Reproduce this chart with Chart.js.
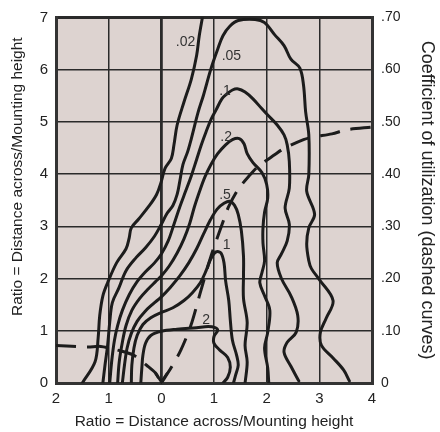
<!DOCTYPE html>
<html>
<head>
<meta charset="utf-8">
<script src="https://cdn.jsdelivr.net/npm/chart.js@4.4.0/dist/chart.umd.min.js"></script>
<style>
  html, body { margin: 0; padding: 0; background: #fff; }
</style>
</head>
<body>
<canvas id="isoChart" width="440" height="432"></canvas>
<script>
// isofootcandle curves: [across, along] in mounting heights
const lvl002 = [[-1.50,0],[-1.26,0.40],[-1.20,0.86],[-1.17,1.29],[-1.11,1.67],[-1.02,1.92],[-0.85,2.30],[-0.67,2.57],[-0.61,2.78],[-0.57,2.97],[-0.43,3.14],[-0.24,3.38],[-0.09,3.61],[0,3.86],[0.07,4.11],[0.19,4.30],[0.24,4.56],[0.30,4.94],[0.43,5.38],[0.57,5.82],[0.67,6.27],[0.72,6.65],[0.78,7.0]];
const lvl005 = [[-1.11,0],[-1.07,0.34],[-1.02,0.72],[-0.98,1.16],[-0.93,1.54],[-0.81,1.81],[-0.67,2.15],[-0.48,2.40],[-0.30,2.59],[-0.13,2.81],[0,3.04],[0.11,3.25],[0.22,3.40],[0.30,3.61],[0.35,3.86],[0.41,4.18],[0.50,4.43],[0.57,4.68],[0.70,5.19],[0.80,5.51],[0.94,6.01],[1.07,6.39],[1.17,6.65],[1.30,6.83],[1.46,6.94],[1.78,6.96],[1.96,6.90],[2.15,6.67],[2.33,6.46],[2.46,6.20],[2.63,6.03],[2.70,5.70],[2.74,5.19],[2.80,4.75],[2.80,3.99],[2.76,3.67],[2.91,3.23],[2.80,2.97],[2.76,2.66],[2.80,2.34],[2.85,2.19],[3.0,1.98],[3.26,1.58],[3.13,1.24],[3.02,0.97],[3.04,0.72],[3.26,0.48],[3.46,0.25],[3.57,0.04]];
const lvl01 = [[-0.98,0],[-0.94,0.44],[-0.89,0.82],[-0.83,1.10],[-0.74,1.39],[-0.61,1.69],[-0.46,1.94],[-0.30,2.13],[-0.13,2.30],[0,2.47],[0.13,2.72],[0.24,3.04],[0.35,3.37],[0.46,3.67],[0.57,3.97],[0.67,4.28],[0.76,4.56],[0.85,4.81],[0.94,5.04],[1.04,5.23],[1.15,5.44],[1.24,5.53],[1.35,5.61],[1.46,5.63],[1.59,5.57],[1.74,5.44],[1.91,5.25],[2.02,5.13],[2.20,4.94],[2.33,4.75],[2.39,4.56],[2.43,4.24],[2.43,3.73],[2.35,3.35],[2.43,3.04],[2.39,2.72],[2.28,2.47],[2.20,2.30],[2.28,2.00],[2.46,1.67],[2.59,1.29],[2.56,0.97],[2.39,0.78],[2.33,0.59],[2.46,0.32],[2.61,0.04]];
const lvl02 = [[-0.83,0],[-0.80,0.40],[-0.74,0.78],[-0.67,1.10],[-0.56,1.39],[-0.41,1.62],[-0.24,1.81],[-0.11,1.94],[0,2.05],[0.15,2.24],[0.30,2.49],[0.43,2.76],[0.54,3.06],[0.63,3.38],[0.74,3.71],[0.83,3.95],[0.94,4.18],[1.07,4.39],[1.22,4.56],[1.35,4.66],[1.48,4.68],[1.57,4.58],[1.63,4.39],[1.74,4.22],[1.91,4.03],[2.0,3.80],[2.02,3.54],[1.96,3.27],[1.93,2.97],[1.93,2.68],[1.96,2.34],[1.91,2.11],[1.87,1.92],[1.96,1.67],[2.06,1.39],[2.02,0.97],[1.96,0.67],[2.02,0.29],[2.04,0]];
const lvl05 = [[-0.74,0],[-0.70,0.34],[-0.65,0.67],[-0.57,0.95],[-0.46,1.18],[-0.31,1.37],[-0.15,1.52],[0,1.65],[0.17,1.83],[0.35,2.05],[0.52,2.30],[0.67,2.57],[0.80,2.85],[0.93,3.12],[1.06,3.33],[1.19,3.44],[1.30,3.48],[1.39,3.40],[1.46,3.23],[1.52,2.91],[1.56,2.43],[1.56,2.05],[1.56,1.62],[1.63,1.16],[1.59,0.72],[1.63,0.40],[1.59,0]];
const lvl1 = [[-0.57,0],[-0.56,0.34],[-0.52,0.67],[-0.46,0.91],[-0.35,1.12],[-0.20,1.25],[0,1.35],[0.22,1.44],[0.43,1.58],[0.59,1.73],[0.74,1.92],[0.85,2.15],[0.94,2.38],[1.04,2.51],[1.13,2.49],[1.19,2.30],[1.22,1.96],[1.28,1.58],[1.31,1.20],[1.35,0.82],[1.43,0.53],[1.46,0.34],[1.41,0.15],[1.37,0]];
const lvl2 = [[-0.39,0],[-0.37,0.29],[-0.35,0.53],[-0.30,0.76],[-0.20,0.91],[0,0.99],[0.30,1.03],[0.67,1.06],[0.89,1.08],[1.02,1.06],[1.07,1.01],[1.0,0.89],[1.0,0.76],[1.11,0.63],[1.26,0.49],[1.31,0.30],[1.26,0.11],[1.17,0]];

const levelCurves = [lvl002, lvl005, lvl01, lvl02, lvl05, lvl1, lvl2];
const levelNames = [".02", ".05", ".1", ".2", ".5", "1", "2"];
// where each level name is written (same units)
const levelNameAt = [[0.46,6.52],[1.33,6.25],[1.21,5.59],[1.23,4.70],[1.21,3.59],[1.24,2.64],[0.85,1.20]];

// coefficient of utilization (dashed curves), right axis
const cuLeft = [[-2,0.072],[-1.4,0.069],[-1.15,0.070],[-0.83,0.063],[-0.52,0.053],[-0.28,0.034],[-0.11,0.019],[0,0]];
const cuRight = [[0,0],[0.19,0.030],[0.37,0.063],[0.56,0.110],[0.74,0.173],[0.95,0.245],[1.19,0.314],[1.28,0.338],[1.46,0.371],[1.69,0.399],[1.83,0.414],[2.15,0.437],[2.33,0.449],[2.70,0.466],[2.89,0.471],[3.24,0.477],[3.52,0.485],[4,0.49]];

const axisTitle = "Ratio = Distance across/Mounting height";
const cuTitle = "Coefficient of utilization (dashed curves)";

const FONT = "'Liberation Sans', Arial, sans-serif";
const INK = "#1c1c1c";

const toXY = arr => arr.map(p => ({ x: p[0], y: p[1] }));

const datasets = levelCurves.map(c => ({
    data: toXY(c),
    yAxisID: "y",
    showLine: true,
    borderColor: INK,
    borderWidth: 3,
    pointRadius: 0,
    tension: 0.35,
    borderCapStyle: "round",
    borderJoinStyle: "round",
    fill: false,
}));
[cuLeft, cuRight].forEach(c => datasets.push({
    data: toXY(c),
    yAxisID: "y2",
    showLine: true,
    borderColor: INK,
    borderWidth: 3,
    borderDash: [20, 11],
    pointRadius: 0,
    tension: 0.3,
    fill: false,
}));

// plot area fill
const plotBg = {
    id: "plotBg",
    beforeDraw(chart) {
        const a = chart.chartArea, c = chart.ctx;
        c.save();
        c.fillStyle = "#ddd3d0";
        c.fillRect(a.left, a.top, a.right - a.left, a.bottom - a.top);
        c.restore();
    }
};

// level names, arrow head on the left dashed curve, left axis title
// (the original sets that title a bit above the middle of the axis)
const decorations = {
    id: "decorations",
    afterDatasetsDraw(chart) {
        const c = chart.ctx, sx = chart.scales.x, sy = chart.scales.y;
        c.save();
        c.font = "14px " + FONT;
        c.fillStyle = "#333";
        c.textAlign = "center";
        c.textBaseline = "middle";
        levelNames.forEach((t, i) => {
            c.fillText(t, sx.getPixelForValue(levelNameAt[i][0]), sy.getPixelForValue(levelNameAt[i][1]));
        });
        const meta = chart.getDatasetMeta(levelCurves.length);
        const tip = meta.data[meta.data.length - 1];
        c.strokeStyle = INK;
        c.lineWidth = 2.6;
        c.beginPath();
        c.moveTo(tip.x - 6, tip.y - 10);
        c.lineTo(tip.x, tip.y - 1);
        c.lineTo(tip.x + 6, tip.y - 10);
        c.stroke();

        c.fillStyle = "#222";
        c.font = "15.5px " + FONT;
        c.translate(17.5, sy.getPixelForValue(3.95));
        c.rotate(-Math.PI / 2);
        c.fillText(axisTitle, 0, 0);
        c.restore();
    }
};

const edgeOrGrid = (edges, zero) => ctx => {
    const v = ctx.tick && ctx.tick.value;
    if (edges.includes(v)) return 3;
    if (v === zero) return 2.8;
    return 1.5;
};

new Chart(document.getElementById("isoChart"), {
    type: "scatter",
    data: { datasets },
    plugins: [plotBg, decorations],
    options: {
        responsive: false,
        animation: false,
        devicePixelRatio: 1,
        layout: { padding: { top: 15, left: 0, right: 0, bottom: 0 } },
        plugins: { legend: { display: false }, tooltip: { enabled: false } },
        scales: {
            x: {
                type: "linear",
                min: -2, max: 4,
                ticks: {
                    stepSize: 1,
                    padding: 7,
                    color: "#222",
                    font: { family: FONT, size: 15 },
                    callback: v => String(Math.abs(v)),
                },
                grid: { color: "#2a2a2a", lineWidth: edgeOrGrid([-2, 4], 0), drawTicks: false },
                border: { display: true, color: "#333", width: 3 },
                title: { display: true, text: axisTitle, color: "#222", font: { family: FONT, size: 15.5 }, padding: { top: 0, bottom: 1 } },
                afterFit(s) { s.height = 49; },
            },
            y: {
                type: "linear",
                position: "left",
                min: 0, max: 7,
                ticks: { stepSize: 1, padding: 8, color: "#222", font: { family: FONT, size: 15 } },
                grid: { color: "#2a2a2a", lineWidth: edgeOrGrid([0, 7], null), drawTicks: false },
                border: { display: true, color: "#333", width: 3 },
                title: { display: false },
                afterFit(s) { s.width = 56; },
            },
            y2: {
                type: "linear",
                position: "right",
                min: 0, max: 0.7,
                ticks: {
                    stepSize: 0.1,
                    padding: 9,
                    color: "#222",
                    font: { family: FONT, size: 14 },
                    callback: v => v === 0 ? "0" : v.toFixed(2).replace(/^0/, ""),
                },
                grid: { display: false, drawTicks: false },
                border: { display: true, color: "#333", width: 3 },
                title: { display: true, text: cuTitle, color: "#222", font: { family: FONT, size: 18 }, padding: { top: 2, bottom: 0 } },
                afterFit(s) { s.width = 68; },
            },
        },
    },
});
</script>
</body>
</html>
